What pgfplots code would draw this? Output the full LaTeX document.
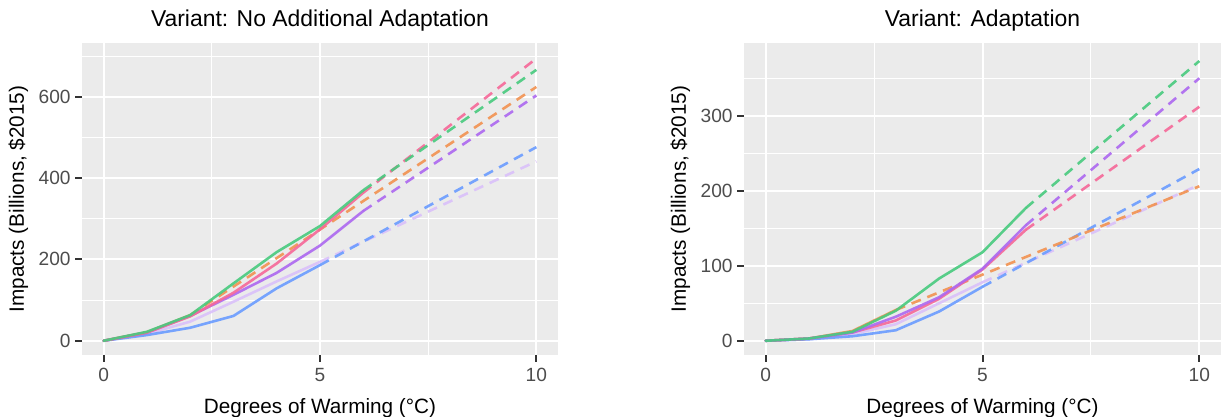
\documentclass[border=0pt]{standalone}
\usepackage{pgfplots}
\pgfplotsset{compat=1.18}
\usepackage{fontspec}
\setmainfont{Liberation Sans}
\definecolor{panelbg}{HTML}{EBEBEB}
\definecolor{tickgray}{HTML}{333333}
\definecolor{labgray}{HTML}{4D4D4D}
\definecolor{cpink}{RGB}{246,104,152}
\definecolor{cgreen}{RGB}{72,202,126}
\definecolor{corange}{RGB}{242,146,80}
\definecolor{cpurple}{RGB}{172,104,240}
\definecolor{cblue}{RGB}{106,156,255}
\definecolor{clav}{RGB}{218,192,250}
\tikzset{tk/.style={draw=tickgray, line width=1bp}}
\pgfplotsset{
  panel/.style={
    scale only axis, width=238bp, height=156bp,
    anchor=north west, clip=false,
    xmin=-0.5, xmax=10.5,
    xtick={0,5,10}, minor xtick={2.5,7.5},
    axis background/.style={fill=panelbg},
    axis line style={draw=none},
    grid=both,
    major grid style={draw=white, line width=1bp},
    minor grid style={draw=white, line width=0.5bp},
    major tick length=0pt, minor tick length=0pt,
    xtick pos=bottom, ytick pos=left,
    /pgf/number format/assume math mode=true,
    ticklabel style={font=\fontsize{9.6}{11}\selectfont, text=labgray},
    xticklabel style={inner sep=0pt, yshift=-6.5bp},
    yticklabel style={inner sep=0pt, xshift=-5.5bp},
    label style={font=\fontsize{10.4}{12}\selectfont, text=black},
    title style={font=\fontsize{11.5}{13}\selectfont, at={(axis description cs:0.5,1.016)}, anchor=base},
    xlabel style={at={(axis description cs:0.5,-0.186)}, anchor=base},
    ylabel style={at={(axis description cs:-0.122,0.5)}, anchor=base},
    xlabel={Degrees of Warming (°C)},
    ylabel={Impacts (Billions, \$2015)},
    every axis plot/.append style={line width=1.3bp, line join=round, line cap=round, opacity=0.9},
    dsh/.style={dash pattern=on 5bp off 3.5bp, line cap=butt},
  }
}
\begin{document}
\begin{tikzpicture}
\useasboundingbox (0,0) rectangle (611bp,-208.5bp);
% ---------------- Left panel ----------------
\begin{axis}[panel, at={(41bp,-21.5bp)},
  ymin=-35, ymax=732,
  ytick={0,200,400,600}, minor ytick={100,300,500,700},
  title={Variant: No Additional Adaptation}]
% lavender
\addplot[clav] coordinates {(0,0) (1,17) (2,47) (3,96) (4,146) (5,194)};
\addplot[clav,dsh] coordinates {(5,194) (10,441)};
% blue
\addplot[cblue] coordinates {(0,0) (1,14) (2,32) (3,61) (4,129) (5,186)};
\addplot[cblue,dsh] coordinates {(5,186) (10,476)};
% orange
\addplot[corange] coordinates {(0,0) (1,21) (2,63)};
\addplot[corange,dsh] coordinates {(2,63) (10,624)};
% purple
\addplot[cpurple] coordinates {(0,0) (1,20) (2,61) (3,113) (4,167) (5,234) (6,319)};
\addplot[cpurple,dsh] coordinates {(6,319) (10,603)};
% pink
\addplot[cpink] coordinates {(0,0) (1,20) (2,60) (3,118) (4,190) (5,274) (6,364)};
\addplot[cpink,dsh] coordinates {(6,364) (10,694)};
% green
\addplot[cgreen] coordinates {(0,0) (1,22) (2,63) (3,141) (4,218) (5,282) (6,370)};
\addplot[cgreen,dsh] coordinates {(6,370) (10,666)};
% tick marks
\draw[tk] (axis cs:0,-35) -- ([yshift=-3.5bp]axis cs:0,-35);
\draw[tk] (axis cs:5,-35) -- ([yshift=-3.5bp]axis cs:5,-35);
\draw[tk] (axis cs:10,-35) -- ([yshift=-3.5bp]axis cs:10,-35);
\draw[tk] (axis cs:-0.5,0) -- ([xshift=-3.5bp]axis cs:-0.5,0);
\draw[tk] (axis cs:-0.5,200) -- ([xshift=-3.5bp]axis cs:-0.5,200);
\draw[tk] (axis cs:-0.5,400) -- ([xshift=-3.5bp]axis cs:-0.5,400);
\draw[tk] (axis cs:-0.5,600) -- ([xshift=-3.5bp]axis cs:-0.5,600);
\end{axis}
% ---------------- Right panel ----------------
\begin{axis}[panel, at={(372bp,-21.5bp)}, width=238.5bp,
  ymin=-19, ymax=397,
  ytick={0,100,200,300}, minor ytick={50,150,250,350},
  title={Variant: Adaptation}]
% lavender
\addplot[clav] coordinates {(0,0) (1,2) (2,9) (3,22) (4,50) (5,78)};
\addplot[clav,dsh] coordinates {(5,78) (10,208)};
% blue
\addplot[cblue] coordinates {(0,0) (1,2) (2,6) (3,14) (4,39) (5,72)};
\addplot[cblue,dsh] coordinates {(5,72) (10,229)};
% orange
\addplot[corange] coordinates {(0,0) (1,3) (2,13) (3,41)};
\addplot[corange,dsh] coordinates {(3,41) (10,206)};
% pink
\addplot[cpink] coordinates {(0,0) (1,3) (2,11) (3,27) (4,56) (5,95) (6,148)};
\addplot[cpink,dsh] coordinates {(6,148) (10,312)};
% purple
\addplot[cpurple] coordinates {(0,0) (1,3) (2,11) (3,32) (4,58) (5,96) (6,154)};
\addplot[cpurple,dsh] coordinates {(6,154) (10,350)};
% green
\addplot[cgreen] coordinates {(0,0) (1,3) (2,12) (3,40) (4,83) (5,118) (6,177)};
\addplot[cgreen,dsh] coordinates {(6,177) (10,373)};
% tick marks
\draw[tk] (axis cs:0,-19) -- ([yshift=-3.5bp]axis cs:0,-19);
\draw[tk] (axis cs:5,-19) -- ([yshift=-3.5bp]axis cs:5,-19);
\draw[tk] (axis cs:10,-19) -- ([yshift=-3.5bp]axis cs:10,-19);
\draw[tk] (axis cs:-0.5,0) -- ([xshift=-3.5bp]axis cs:-0.5,0);
\draw[tk] (axis cs:-0.5,100) -- ([xshift=-3.5bp]axis cs:-0.5,100);
\draw[tk] (axis cs:-0.5,200) -- ([xshift=-3.5bp]axis cs:-0.5,200);
\draw[tk] (axis cs:-0.5,300) -- ([xshift=-3.5bp]axis cs:-0.5,300);
\end{axis}
\end{tikzpicture}
\end{document}
